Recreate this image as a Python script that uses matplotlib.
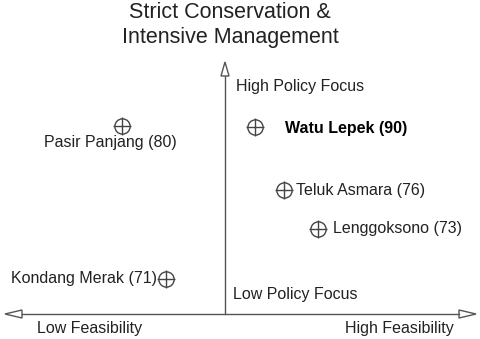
import matplotlib
matplotlib.use("Agg")
import matplotlib.pyplot as plt
from matplotlib.patches import Polygon

plt.rcParams['font.family'] = ['Liberation Sans', 'DejaVu Sans']

# Data (feasibility on x, policy focus on y; axes cross at 0,0)
sites = ["Pasir Panjang (80)", "Watu Lepek (90)", "Teluk Asmara (76)",
         "Lenggoksono (73)", "Kondang Merak (71)"]
feasibility = [-2.06, 0.60, 1.18, 1.86, -1.18]
policy_focus = [3.76, 3.74, 2.48, 1.70, 0.70]
bold = [False, True, False, False, False]

# label placement (offset pixels, alignment)
offsets = [(-12, -17, 'center'), (30, -1, 'left'), (12, 0, 'left'),
           (15, 1, 'left'), (-9, 0, 'right')]

W, H = 480, 339
fig = plt.figure(figsize=(W / 100, H / 100), dpi=100)
ax = fig.add_axes([0, 0, 1, 1])
ax.set_xlim(-4.5, 5.1)
ax.set_ylim(-0.5, 6.28)
ax.axis('off')

line_col = '#555555'
txt_col = '#222222'
fs = 11.5

# vertical axis
ytop = 5.04
ax.plot([0, 0], [0, ytop - 0.28], color=line_col, lw=1)
ax.add_patch(Polygon([[0, ytop], [-0.08, ytop - 0.28], [0.08, ytop - 0.28]],
                     closed=True, fill=False, edgecolor=line_col, lw=1))
# horizontal axis
xl, xr = -4.4, 5.02
ax.plot([xl + 0.34, xr - 0.34], [0, 0], color=line_col, lw=1)
ax.add_patch(Polygon([[xl, 0], [xl + 0.34, 0.08], [xl + 0.34, -0.08]],
                     closed=True, fill=False, edgecolor=line_col, lw=1))
ax.add_patch(Polygon([[xr, 0], [xr - 0.34, 0.08], [xr - 0.34, -0.08]],
                     closed=True, fill=False, edgecolor=line_col, lw=1))

# markers
ax.plot(feasibility, policy_focus, 'o', ms=11, mfc='none', mec='#444444', mew=1.0, ls='none')
ax.plot(feasibility, policy_focus, '+', ms=13, mec='#444444', mew=1.0, ls='none')

for name, x, y, b, (dx, dy, ha) in zip(sites, feasibility, policy_focus, bold, offsets):
    ax.annotate(name, (x, y), xytext=(dx, dy), textcoords='offset pixels',
                ha=ha, va='center', fontsize=fs, color='black' if b else txt_col,
                fontweight='bold' if b else 'normal')

ax.text(0.22, 4.54, "High Policy Focus", fontsize=fs, ha='left', va='center', color=txt_col)
ax.text(0.16, 0.40, "Low Policy Focus", fontsize=fs, ha='left', va='center', color=txt_col)
ax.text(-2.71, -0.28, "Low Feasibility", fontsize=fs, ha='center', va='center', color=txt_col)
ax.text(3.48, -0.28, "High Feasibility", fontsize=fs, ha='center', va='center', color=txt_col)

fig.text(230 / W, 1 - 2 / H, "Strict Conservation &\nIntensive Management",
         ha='center', va='top', fontsize=15.5, color=txt_col, linespacing=1.25)

fig.savefig("out.png", dpi=100)
